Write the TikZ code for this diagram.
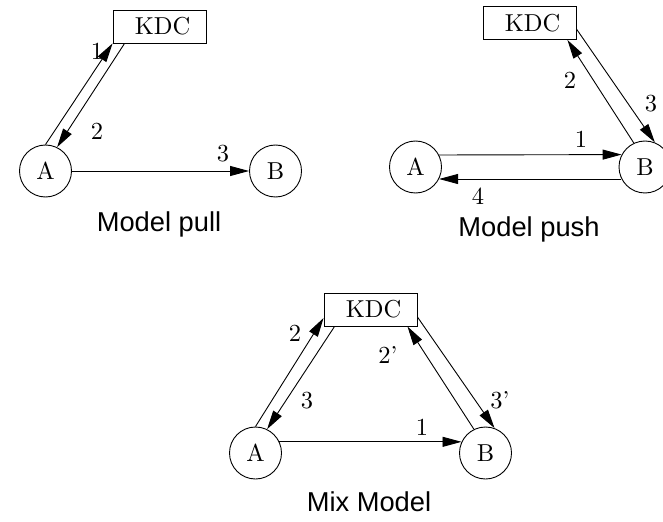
\documentclass[tikz,border=0pt]{standalone}
\usepackage{fontspec}
\newfontfamily\capfont{Liberation Sans}
\usetikzlibrary{arrows.meta}
\newcommand\bigtxt[1]{\scalebox{2.45}{\fontsize{10bp}{12bp}\selectfont #1}}
\begin{document}
\begin{tikzpicture}[x=1bp,y=-1bp, line width=0.9bp,
  party/.style={circle,draw,minimum size=52bp,inner sep=0pt},
  kdcbox/.style={draw,minimum width=93bp,minimum height=33bp,inner sep=0pt},
  msg/.style={-{Triangle[length=19bp,width=10bp]}},
  lbl/.style={inner sep=0pt},
  capt/.style={font=\fontsize{27.3bp}{32bp}\selectfont\capfont, anchor=base, inner sep=0pt}]
\useasboundingbox (0,0) rectangle (663,522);

% Model pull
\node[kdcbox] (k1) at (159.5,26.5) {\hspace{6bp}\bigtxt{KDC}};
\node[party] (a1) at (45.5,171) {\bigtxt{A}};
\node[party] (b1) at (275.5,171) {\bigtxt{B}};
\draw[msg] (a1.north) -- (k1.south west);
\draw[msg] ([xshift=12bp]k1.south west) -- (a1.64);
\draw[msg] (a1.east) -- (b1.west);
\node[lbl] (l11) at (97,51) {\bigtxt{1}};
\node[lbl] (l12) at (97,131) {\bigtxt{2}};
\node[lbl] (l13) at (223,154) {\bigtxt{3}};
\node[capt] (c1) at (159,232) {Model pull};

% Model push
\node[kdcbox] (k2) at (529.5,23) {\hspace{6bp}\bigtxt{KDC}};
\node[party] (a2) at (415.5,167) {\bigtxt{A}};
\node[party] (b2) at (645,167) {\bigtxt{B}};
\draw[msg] (a2.27.5) -- (b2.152.5);
\draw[msg] (b2.207.5) -- (a2.-27.5);
\draw[msg] (b2.115) -- ([xshift=-9bp]k2.south east);
\draw[msg] ([yshift=-6bp]k2.east) -- (b2.68);
\node[lbl] (l21) at (581,139) {\bigtxt{1}};
\node[lbl] (l22) at (570,80) {\bigtxt{2}};
\node[lbl] (l23) at (651,104) {\bigtxt{3}};
\node[lbl] (l24) at (478,196) {\bigtxt{4}};
\node[capt] (c2) at (529,237) {Model push};

% Mix Model
\node[kdcbox] (k3) at (370.5,309.5) {\hspace{6bp}\bigtxt{KDC}};
\node[party] (a3) at (255.5,453) {\bigtxt{A}};
\node[party] (b3) at (485.5,453) {\bigtxt{B}};
\draw[msg] (a3.north) -- ([yshift=-8.5bp]k3.west);
\draw[msg] ([xshift=11bp]k3.south west) -- (a3.64);
\draw[msg] (a3.25) -- (b3.155);
\draw[msg] (b3.116) -- ([xshift=-10bp]k3.south east);
\draw[msg] ([yshift=-7.5bp]k3.east) -- (b3.70);
\node[lbl] (l31) at (422,427) {\bigtxt{1}};
\node[lbl] (l32) at (295,333) {\bigtxt{2}};
\node[lbl] (l33) at (307,401) {\bigtxt{3}};
\node[lbl] (l34) at (388,355) {\bigtxt{2'}};
\node[lbl] (l35) at (500,400) {\bigtxt{3'}};
\node[capt] (c3) at (369,511) {Mix Model};
\end{tikzpicture}
\end{document}
